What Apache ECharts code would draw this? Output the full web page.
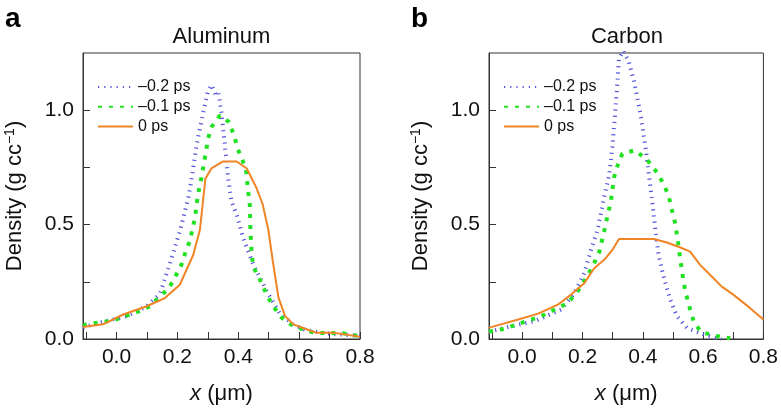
<!DOCTYPE html>
<html>
<head>
<meta charset="utf-8">
<script src="https://cdn.jsdelivr.net/npm/echarts@6/dist/echarts.min.js"></script>
<style>html,body{margin:0;padding:0;background:#fff;}#c{width:781px;height:410px;}</style>
</head>
<body>
<div id="c"></div>
<script>
// ---- Data ----
var seriesNames = ['–0.2 ps', '–0.1 ps', '0 ps'];
var xTickValues = [-0.1, 0, 0.1, 0.2, 0.3, 0.4, 0.5, 0.6, 0.7, 0.8];
var xLabelValues = [0, 0.2, 0.4, 0.6, 0.8];
var yTickValues = [0, 0.25, 0.5, 0.75, 1.0];
var yLabelValues = [0, 0.5, 1.0];

// Aluminum
var alBlueX = [-0.11, -0.077, -0.03, 0.033, 0.099, 0.142, 0.175, 0.208, 0.236, 0.247, 0.263, 0.285, 0.30, 0.312, 0.325, 0.334, 0.345, 0.356, 0.367, 0.378, 0.395, 0.416, 0.449, 0.493, 0.537, 0.581, 0.62, 0.67, 0.73, 0.79, 0.8];
var alBlueY = [0.05, 0.064, 0.08, 0.10, 0.143, 0.196, 0.327, 0.47, 0.616, 0.703, 0.847, 0.99, 1.08, 1.11, 1.07, 1.08, 0.99, 0.847, 0.703, 0.6, 0.543, 0.442, 0.327, 0.211, 0.11, 0.064, 0.04, 0.027, 0.02, 0.015, 0.013];
var alGreenX = [-0.11, -0.099, -0.011, 0.066, 0.11, 0.142, 0.17, 0.192, 0.214, 0.228, 0.241, 0.258, 0.265, 0.272, 0.28, 0.287, 0.294, 0.301, 0.312, 0.34, 0.37, 0.386, 0.398, 0.411, 0.425, 0.433, 0.438, 0.44, 0.444, 0.449, 0.471, 0.493, 0.515, 0.543, 0.581, 0.65, 0.745, 0.795, 0.8];
var alGreenY = [0.058, 0.064, 0.081, 0.117, 0.143, 0.186, 0.218, 0.269, 0.327, 0.385, 0.428, 0.53, 0.604, 0.66, 0.71, 0.768, 0.818, 0.876, 0.926, 0.977, 0.948, 0.89, 0.833, 0.79, 0.745, 0.64, 0.587, 0.476, 0.376, 0.317, 0.26, 0.195, 0.143, 0.093, 0.056, 0.027, 0.025, 0.013, 0.012];
var alOrangeX = [-0.11, -0.044, 0.022, 0.099, 0.159, 0.208, 0.252, 0.274, 0.284, 0.292, 0.312, 0.35, 0.395, 0.428, 0.46, 0.48, 0.499, 0.515, 0.532, 0.554, 0.581, 0.62, 0.658, 0.712, 0.76, 0.8];
var alOrangeY = [0.052, 0.064, 0.107, 0.143, 0.179, 0.237, 0.367, 0.476, 0.6, 0.70, 0.746, 0.776, 0.776, 0.745, 0.66, 0.59, 0.476, 0.327, 0.182, 0.10, 0.064, 0.045, 0.027, 0.027, 0.018, 0.01];

// Carbon
var cBlueX = [-0.11, -0.10, -0.035, 0.042, 0.13, 0.173, 0.206, 0.228, 0.25, 0.272, 0.289, 0.299, 0.308, 0.316, 0.321, 0.335, 0.354, 0.371, 0.393, 0.409, 0.42, 0.431, 0.442, 0.453, 0.469, 0.491, 0.513, 0.546, 0.601, 0.64, 0.66];
var cBlueY = [0.033, 0.035, 0.056, 0.078, 0.129, 0.20, 0.288, 0.389, 0.476, 0.62, 0.72, 0.837, 0.98, 1.126, 1.227, 1.26, 1.21, 1.126, 0.98, 0.837, 0.72, 0.606, 0.476, 0.36, 0.273, 0.172, 0.10, 0.049, 0.02, 0.005, 0.0];
var cGreenX = [-0.11, -0.10, -0.057, -0.013, 0.064, 0.108, 0.151, 0.184, 0.212, 0.234, 0.256, 0.274, 0.283, 0.294, 0.299, 0.305, 0.316, 0.332, 0.374, 0.415, 0.447, 0.469, 0.486, 0.497, 0.508, 0.519, 0.53, 0.541, 0.557, 0.57, 0.595, 0.645, 0.69];
var cGreenY = [0.033, 0.035, 0.045, 0.066, 0.10, 0.129, 0.157, 0.208, 0.266, 0.317, 0.382, 0.483, 0.54, 0.6, 0.649, 0.707, 0.757, 0.81, 0.825, 0.782, 0.728, 0.678, 0.624, 0.562, 0.504, 0.403, 0.295, 0.208, 0.129, 0.071, 0.03, 0.013, 0.003];
var cOrangeX = [-0.11, -0.10, -0.013, 0.053, 0.118, 0.162, 0.206, 0.239, 0.272, 0.299, 0.321, 0.437, 0.48, 0.519, 0.557, 0.59, 0.623, 0.661, 0.70, 0.755, 0.8];
var cOrangeY = [0.05, 0.053, 0.085, 0.111, 0.15, 0.194, 0.244, 0.309, 0.346, 0.389, 0.437, 0.437, 0.422, 0.403, 0.382, 0.324, 0.281, 0.23, 0.194, 0.136, 0.085];

// ---- Chart ----
function zip(xs, ys) { return xs.map(function (x, i) { return [x, ys[i]]; }); }
var FONT = 'Liberation Sans, Arial, Helvetica, sans-serif';
var AXC = '#333';
var blueStyle = { color: '#5656dc', width: 4, type: [1.2, 5], cap: 'butt' };
var greenStyle = { color: '#22e022', width: 4, type: [4, 7], cap: 'butt' };
var orangeStyle = { color: '#f08526', width: 2, type: 'solid' };

function xAx(g) {
  return {
    type: 'value', gridIndex: g, min: -0.11, max: 0.8,
    axisLine: { show: true, onZero: false, lineStyle: { color: AXC, width: 1 } },
    axisTick: { show: true, inside: true, length: 7, customValues: xTickValues, lineStyle: { color: AXC } },
    axisLabel: { customValues: xLabelValues, formatter: function (v) { return v.toFixed(1); }, fontSize: 21, color: '#111', fontFamily: FONT, margin: 8 },
    splitLine: { show: false },
    name: '{i|x} (μm)', nameLocation: 'middle', nameGap: 44,
    nameTextStyle: { fontSize: 22, color: '#111', fontFamily: FONT,
      rich: { i: { fontStyle: 'italic', fontSize: 22, color: '#111', fontFamily: FONT } } }
  };
}
function yAx(g) {
  return {
    type: 'value', gridIndex: g, min: 0, max: 1.25,
    axisLine: { show: true, onZero: false, lineStyle: { color: AXC, width: 1 } },
    axisTick: { show: true, inside: true, length: 7, customValues: yTickValues, lineStyle: { color: AXC } },
    axisLabel: { customValues: yLabelValues, formatter: function (v) { return v.toFixed(1); }, fontSize: 21, color: '#111', fontFamily: FONT, margin: 9 },
    splitLine: { show: false },
    name: '{a|Density (g cc}{s|−1}{a|)}', nameLocation: 'middle', nameGap: 56, nameRotate: 90,
    nameTextStyle: { fontSize: 22, color: '#111', fontFamily: FONT,
      rich: {
        a: { fontSize: 22, color: '#111', fontFamily: FONT, lineHeight: 24 },
        s: { fontSize: 14, color: '#111', fontFamily: FONT, verticalAlign: 'top', lineHeight: 24, padding: [0, 0, 8, 0] }
      } }
  };
}
function line(name, g, xs, ys, ls) {
  return { name: name, type: 'line', xAxisIndex: g, yAxisIndex: g, data: zip(xs, ys),
    symbol: 'none', showSymbol: false, smooth: false, lineStyle: ls, itemStyle: { color: ls.color },
    emphasis: { disabled: true }, animation: false, clip: true };
}
function legend(left) {
  return { left: left, top: 79, padding: 0, orient: 'vertical', itemWidth: 35, itemHeight: 14, itemGap: 3.8,
    itemStyle: { color: 'rgba(0,0,0,0)', borderWidth: 0, opacity: 0 },
    textStyle: { fontSize: 16, color: '#111', fontFamily: FONT }, data: seriesNames, selectedMode: false };
}

var chart = echarts.init(document.getElementById('c'), null, { renderer: 'canvas' });
chart.setOption({
  animation: false,
  backgroundColor: '#fff',
  grid: [
    { left: 83, top: 53, width: 277, height: 290, show: true, borderColor: AXC, borderWidth: 1, backgroundColor: 'transparent' },
    { left: 489, top: 53, width: 277, height: 290, show: true, borderColor: AXC, borderWidth: 1, backgroundColor: 'transparent' }
  ],
  xAxis: [xAx(0), xAx(1)],
  yAxis: [yAx(0), yAx(1)],
  legend: [legend(97), legend(503)],
  series: [
    line(seriesNames[0], 0, alBlueX, alBlueY, blueStyle),
    line(seriesNames[1], 0, alGreenX, alGreenY, greenStyle),
    line(seriesNames[2], 0, alOrangeX, alOrangeY, orangeStyle),
    line(seriesNames[0], 1, cBlueX, cBlueY, blueStyle),
    line(seriesNames[1], 1, cGreenX, cGreenY, greenStyle),
    line(seriesNames[2], 1, cOrangeX, cOrangeY, orangeStyle)
  ],
  graphic: [
    { type: 'text', x: 5, y: 19, style: { text: 'a', fontSize: 28, fontWeight: 'bold', fontFamily: FONT, fill: '#000', align: 'left', verticalAlign: 'middle' } },
    { type: 'text', x: 411, y: 19, style: { text: 'b', fontSize: 28, fontWeight: 'bold', fontFamily: FONT, fill: '#000', align: 'left', verticalAlign: 'middle' } },
    { type: 'text', x: 221.5, y: 37, style: { text: 'Aluminum', fontSize: 22, fontFamily: FONT, fill: '#111', align: 'center', verticalAlign: 'middle' } },
    { type: 'text', x: 627, y: 37, style: { text: 'Carbon', fontSize: 22, fontFamily: FONT, fill: '#111', align: 'center', verticalAlign: 'middle' } }
  ]
});
</script>
</body>
</html>
